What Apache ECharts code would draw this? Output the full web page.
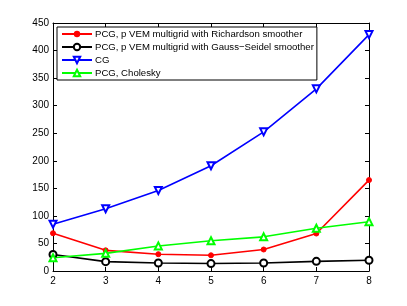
<!DOCTYPE html>
<html><head><meta charset="utf-8">
<script src="https://cdn.jsdelivr.net/npm/echarts@6/dist/echarts.min.js"></script>
<style>html,body{margin:0;padding:0;background:#fff}#c{width:407px;height:306px}</style>
</head><body><div id="c"></div>
<script>
const xValues = [2, 3, 4, 5, 6, 7, 8];
const richardson = [68.5, 37.5, 30.5, 28.5, 39, 68, 165];
const gaussSeidel = [30, 17, 14.5, 13.5, 14.5, 17.5, 19.5];
const cg = [85, 113, 146, 191, 252.5, 330.5, 429];
const cholesky = [24, 32, 45.5, 55, 62, 77.5, 89.5];
const seriesNames = [
  'PCG, p VEM multigrid with Richardson smoother',
  'PCG, p VEM multigrid with Gauss\u2212Seidel smoother',
  'CG',
  'PCG, Cholesky'
];
const xTicks = [2, 3, 4, 5, 6, 7, 8];
const yTicks = [0, 50, 100, 150, 200, 250, 300, 350, 400, 450];

const font = 'Liberation Sans, Arial, Helvetica, sans-serif';
const pairs = arr => xValues.map((x, i) => [x, arr[i]]);
const chart = echarts.init(document.getElementById('c'));
const axisCommon = {
  axisLine: {show: true, onZero: false, lineStyle: {color: '#000', width: 1}},
  axisTick: {show: true, inside: true, length: 4, lineStyle: {color: '#000'}},
  splitLine: {show: false}
};
chart.setOption({
  animation: false,
  backgroundColor: '#fff',
  grid: {left: 53, right: 38, top: 23, bottom: 35},
  xAxis: [
    Object.assign({type: 'value', min: xTicks[0], max: xTicks[xTicks.length-1], interval: 1, position: 'bottom',
      axisLabel: {color: '#000', fontFamily: font, fontSize: 10, margin: 5}}, axisCommon),
    Object.assign({type: 'value', min: xTicks[0], max: xTicks[xTicks.length-1], interval: 1, position: 'top',
      axisLabel: {show: false}}, axisCommon)
  ],
  yAxis: [
    Object.assign({type: 'value', min: yTicks[0], max: yTicks[yTicks.length-1], interval: 50, position: 'left',
      axisLabel: {color: '#000', fontFamily: font, fontSize: 10, margin: 4}}, axisCommon),
    Object.assign({type: 'value', min: yTicks[0], max: yTicks[yTicks.length-1], interval: 50, position: 'right',
      axisLabel: {show: false}}, axisCommon)
  ],
  legend: {
    orient: 'vertical', left: 57, top: 27,
    backgroundColor: '#fff', borderColor: '#000', borderWidth: 1,
    padding: [2, 3, 2, 4],
    itemWidth: 30, itemHeight: 8, itemGap: 3,
    textStyle: {color: '#000', fontFamily: font, fontSize: 9.6, padding: [0,0,0,-2]},
    data: seriesNames
  },
  series: [
    {name: seriesNames[0], type: 'line', data: pairs(richardson), color: '#ff0000',
      lineStyle: {width: 1.6}, symbol: 'circle', symbolSize: 5,
      itemStyle: {color: '#ff0000', borderColor: '#ff0000'}},
    {name: seriesNames[1], type: 'line', data: pairs(gaussSeidel), color: '#000000',
      lineStyle: {width: 1.6}, symbol: 'emptyCircle', symbolSize: 7,
      itemStyle: {color: '#000', borderColor: '#000', borderWidth: 1.6}},
    {name: seriesNames[2], type: 'line', data: pairs(cg), color: '#0000ff',
      lineStyle: {width: 1.6}, symbol: 'emptyTriangle', symbolRotate: 180, symbolSize: 7,
      itemStyle: {color: '#0000ff', borderColor: '#0000ff', borderWidth: 1.4}},
    {name: seriesNames[3], type: 'line', data: pairs(cholesky), color: '#00ff00',
      lineStyle: {width: 1.6}, symbol: 'emptyTriangle', symbolSize: 7,
      itemStyle: {color: '#00ff00', borderColor: '#00ff00', borderWidth: 1.4}}
  ]
});
</script></body></html>
